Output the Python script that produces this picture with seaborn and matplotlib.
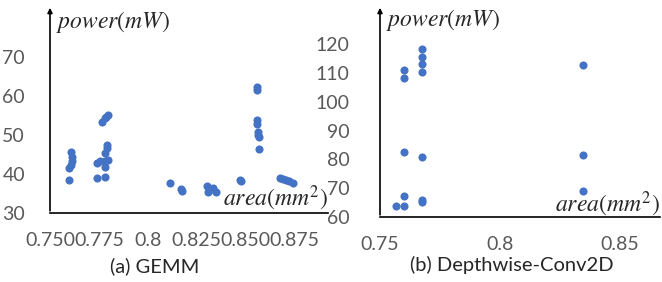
import matplotlib as mpl
import matplotlib.pyplot as plt
import seaborn as sns
import pandas as pd
import numpy as np

# (a) GEMM: area (mm^2) vs power (mW)
gemm_area = [0.7595, 0.7597, 0.7605, 0.7612, 0.7612, 0.7608,
             0.7738, 0.7782, 0.7738, 0.7755, 0.7780, 0.7797, 0.7780, 0.7780, 0.7790, 0.7790,
             0.7765, 0.7780, 0.7797, 0.7788,
             0.8112, 0.8170, 0.8175,
             0.8300, 0.8308, 0.8333, 0.8350, 0.8320,
             0.8470, 0.8475,
             0.8555, 0.8557, 0.8555, 0.8557, 0.8560, 0.8562, 0.8565, 0.8570,
             0.8673, 0.8690, 0.8705, 0.8722, 0.8740]
gemm_power = [38.5, 41.5, 42.3, 43.2, 44.4, 45.7,
              39.0, 39.1, 42.7, 43.2, 43.2, 43.6, 41.9, 45.3, 46.6, 47.4,
              53.4, 54.3, 55.1, 54.7,
              37.6, 36.1, 35.6,
              37.0, 35.5, 36.5, 35.5, 36.2,
              38.5, 38.2,
              62.2, 61.4, 53.8, 52.8, 50.8, 50.0, 49.4, 46.3,
              38.9, 38.7, 38.4, 38.1, 37.8]

# (b) Depthwise-Conv2D
dw_area = [0.7565, 0.7600, 0.7600, 0.7600, 0.7600, 0.7600,
           0.7674, 0.7674, 0.7674, 0.7674, 0.7674, 0.7674, 0.7674,
           0.8345, 0.8345, 0.8345]
dw_power = [63.9, 63.9, 67.3, 82.5, 108.4, 111.2,
            118.3, 115.4, 113.1, 110.2, 80.7, 65.9, 65.1,
            112.7, 81.4, 68.9]

gemm_xticks = [0.750, 0.775, 0.8, 0.825, 0.850, 0.875]
gemm_xlabels = ["0.750", "0.775", "0.8", "0.825", "0.850", "0.875"]
gemm_yticks = [30, 40, 50, 60, 70]
dw_xticks = [0.75, 0.8, 0.85]
dw_xlabels = ["0.75", "0.8", "0.85"]
dw_yticks = [60, 70, 80, 90, 100, 110, 120]

sns.set_style("white")
plt.rcParams["font.family"] = ["Lato", "DejaVu Sans"]
plt.rcParams["mathtext.fontset"] = "stix"

W, H = 662, 282
fig = plt.figure(figsize=(W / 100, H / 100), dpi=100)

def px_axes(x0, y0, x1, y1):
    return fig.add_axes([x0 / W, 1 - y1 / H, (x1 - x0) / W, (y1 - y0) / H])

def style_axis(ax, xticks, xlabels, yticks, ypad):
    sns.despine(ax=ax, left=True)
    ax.spines["bottom"].set_color("black")
    ax.spines["bottom"].set_linewidth(1.2)
    ax.annotate("", xy=(0, 1), xytext=(0, -0.003), xycoords="axes fraction",
                arrowprops=dict(arrowstyle="-|>", lw=1.2, color="black", mutation_scale=7))
    ax.set_xticks(xticks)
    ax.set_xticklabels(xlabels)
    ax.set_yticks(yticks)
    ax.tick_params(axis="both", direction="in", length=7, width=1, color="#d0d0d0",
                   labelcolor="#595959", labelsize=14)
    ax.tick_params(axis="x", pad=14)
    ax.tick_params(axis="y", pad=ypad)
    ax.set_xlabel("")
    ax.set_ylabel("")

# left panel
ax1 = px_axes(50, 5, 328, 213)
sns.scatterplot(x=gemm_area, y=gemm_power, ax=ax1, color="#4472C4", s=34, linewidth=0)
ax1.set_xlim(0.75, 0.892)
ax1.set_ylim(30, 83.3)
style_axis(ax1, gemm_xticks, gemm_xlabels, gemm_yticks, 18)
ax1.text(0.02, 0.92, r"$power(mW)$", transform=ax1.transAxes, fontsize=17, va="center")
ax1.text(1.0, 0.07, r"$area(mm^2)$", transform=ax1.transAxes, fontsize=17, va="center", ha="right")

# right panel
ax2 = px_axes(380, 5, 660, 217)
sns.scatterplot(x=dw_area, y=dw_power, ax=ax2, color="#4472C4", s=34, linewidth=0)
ax2.set_xlim(0.75, 0.8667)
ax2.set_ylim(60, 133.6)
style_axis(ax2, dw_xticks, dw_xlabels, dw_yticks, 22)
ax2.text(0.02, 0.93, r"$power(mW)$", transform=ax2.transAxes, fontsize=17, va="center")
ax2.text(1.0, 0.06, r"$area(mm^2)$", transform=ax2.transAxes, fontsize=17, va="center", ha="right")

fig.text(155 / W, 1 - 266 / H, "(a) GEMM", ha="center", va="center", fontsize=14.5)
fig.text(512 / W, 1 - 265 / H, "(b) Depthwise-Conv2D", ha="center", va="center", fontsize=14.5)

fig.savefig("out.png", dpi=100)
